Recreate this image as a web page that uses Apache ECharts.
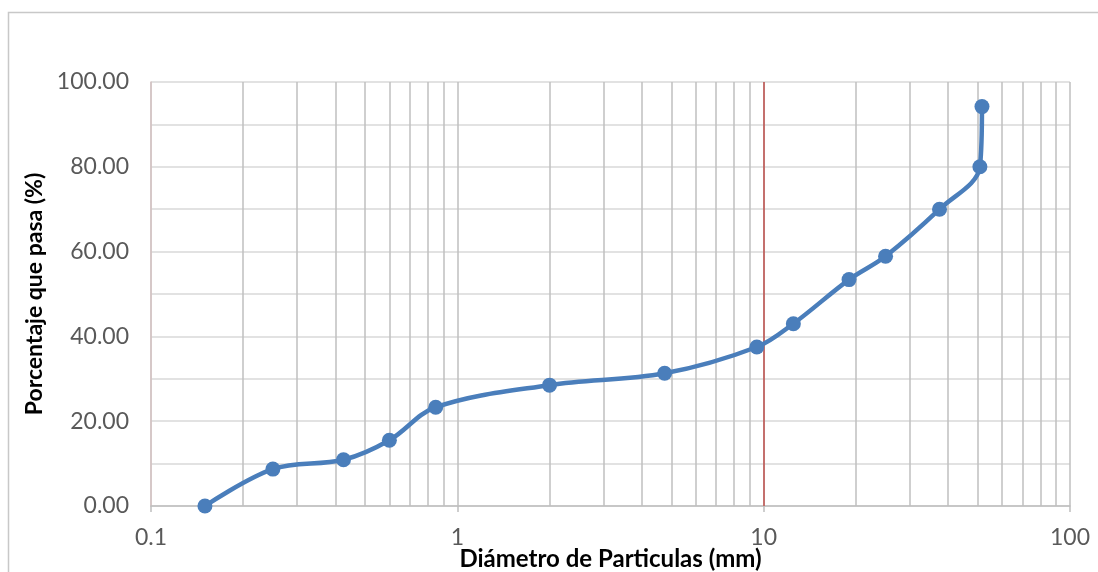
<!DOCTYPE html>
<html>
<head>
<meta charset="utf-8">
<script src="https://cdn.jsdelivr.net/npm/echarts@6/dist/echarts.min.js"></script>
<style>
  html, body { margin: 0; padding: 0; background: #fff; }
  #granulometria { width: 1098px; height: 572px; }
</style>
</head>
<body>
<div id="granulometria"></div>
<script>
// sieve openings (mm) and percent passing
var diametros = [0.15, 0.25, 0.425, 0.6, 0.85, 2, 4.75, 9.5, 12.5, 19, 25, 37.5, 50.8, 51.6];
var porcentaje = [0.0, 8.7, 10.9, 15.5, 23.3, 28.5, 31.3, 37.5, 43.0, 53.4, 58.9, 70.0, 80.0, 94.2];

// minor log grid values (2..9 per decade)
var lineasMenores = [0.2, 0.3, 0.4, 0.5, 0.6, 0.7, 0.8, 0.9,
                     2, 3, 4, 5, 6, 7, 8, 9,
                     20, 30, 40, 50, 60, 70, 80, 90];
var lineaRoja = 10;

var dom = document.getElementById('granulometria');
var myChart = echarts.init(dom, null, { renderer: 'canvas' });

var puntos = diametros.map(function (d, i) { return [d, porcentaje[i]]; });

var option = {
  animation: false,
  backgroundColor: '#fff',
  graphic: [{
    type: 'rect',
    shape: { x: 8.5, y: 12.5, width: 1200, height: 700 },
    style: { fill: 'none', stroke: '#c8c8c8', lineWidth: 1.5 },
    silent: true
  }],
  grid: { left: 151, right: 28, top: 82, bottom: 66, outerBoundsMode: 'none', containLabel: false },
  xAxis: {
    type: 'log',
    logBase: 10,
    min: 0.1,
    max: 100,
    name: 'Diámetro de Particulas (mm)',
    nameLocation: 'middle',
    nameGap: 41,
    nameMoveOverlap: false,
    nameTextStyle: { color: '#000', fontSize: 24, fontWeight: 'bold', fontFamily: 'Lato' },
    axisLine: { show: true, lineStyle: { color: '#bfbfbf', width: 1.5 } },
    axisTick: { show: true, length: 6, lineStyle: { color: '#bfbfbf', width: 1.5 } },
    axisLabel: {
      color: '#595959', fontSize: 23, fontFamily: 'Lato', margin: 20,
      formatter: function (v) { return String(v); }
    },
    splitLine: { show: true, lineStyle: { color: '#bfbfbf', width: 1.5 } }
  },
  yAxis: {
    type: 'value',
    min: 0,
    max: 100,
    interval: 10,
    name: 'Porcentaje que pasa (%)',
    nameLocation: 'middle',
    nameGap: 105,
    nameMoveOverlap: false,
    nameTextStyle: { color: '#000', fontSize: 23, fontWeight: 'bold', fontFamily: 'Lato' },
    axisLine: { show: true, lineStyle: { color: '#d9c6c6', width: 1.5 } },
    axisTick: { show: false },
    axisLabel: {
      color: '#595959', fontSize: 23, fontFamily: 'Lato', margin: 22,
      formatter: function (v) { return v % 20 === 0 ? v.toFixed(2) : ''; }
    },
    splitLine: { show: true, lineStyle: { color: '#d9d9d9', width: 1.5 } }
  },
  series: [
    {
      // grid helper: minor vertical lines + red reference line
      type: 'line',
      data: [],
      z: 1,
      silent: true,
      markLine: {
        silent: true,
        symbol: ['none', 'none'],
        label: { show: false },
        lineStyle: { color: '#bfbfbf', width: 1.5, type: 'solid' },
        data: lineasMenores.map(function (v) { return { xAxis: v }; }).concat([
          { xAxis: lineaRoja, lineStyle: { color: '#c0504d', width: 1.5, type: 'solid' } }
        ])
      }
    },
    {
      name: 'Granulometría',
      type: 'line',
      z: 5,
      data: puntos,
      smooth: 0.35,
      symbol: 'circle',
      symbolSize: 15,
      itemStyle: { color: '#4a7ebb' },
      lineStyle: { color: '#4a7ebb', width: 4.5 }
    }
  ]
};

myChart.setOption(option);
window.addEventListener('resize', myChart.resize);
</script>
</body>
</html>
